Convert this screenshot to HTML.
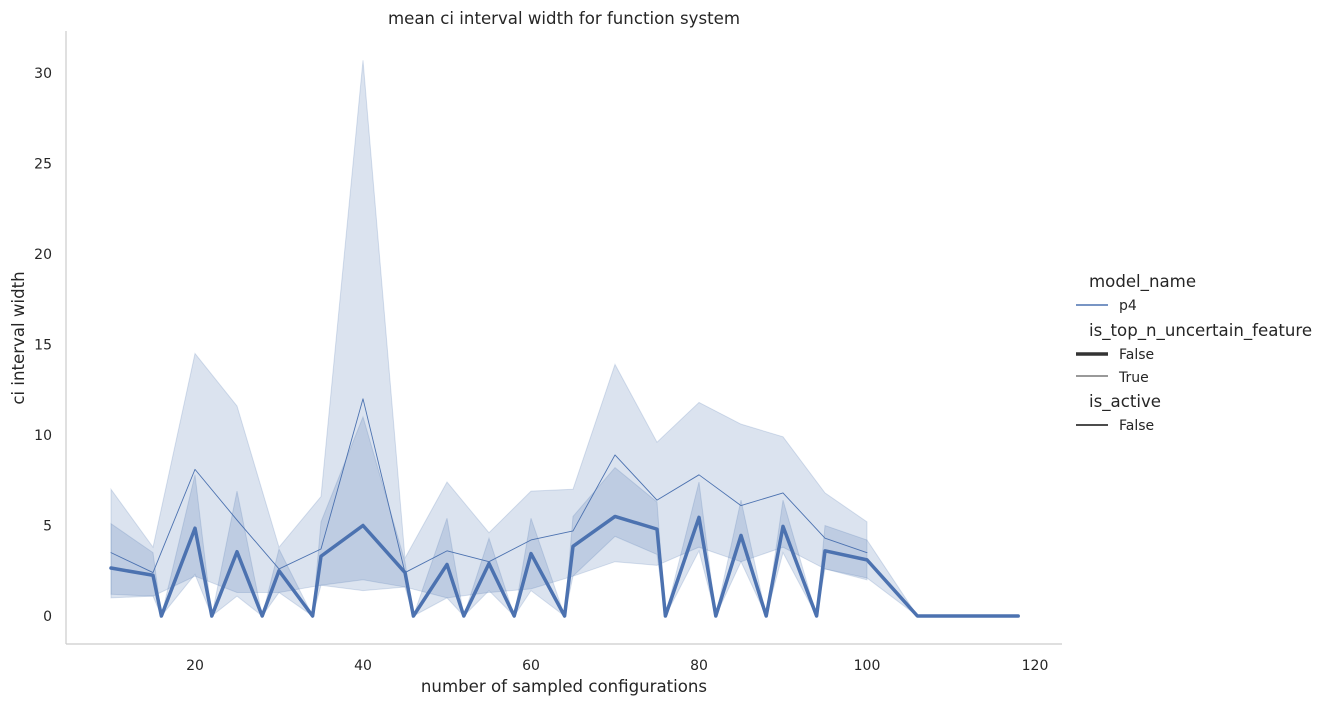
<!DOCTYPE html>
<html><head><meta charset="utf-8"><style>
body{margin:0;background:#fff;font-family:"DejaVu Sans","Liberation Sans",sans-serif;}
</style></head><body>
<svg width="1325" height="706" viewBox="0 0 1325 706" font-family="DejaVu Sans, Liberation Sans, sans-serif">
<text x="564" y="24" text-anchor="middle" font-size="16.6" fill="#262626">mean ci interval width for function system</text>
<g id="plot"></g>
<g id="axes"></g>
<text x="564" y="692" text-anchor="middle" font-size="16.6" fill="#262626">number of sampled configurations</text>
<text transform="translate(24,338) rotate(-90)" text-anchor="middle" font-size="16.6" fill="#262626">ci interval width</text>
<g font-size="14" fill="#262626">
<text x="1089" y="287" font-size="16.6">model_name</text>
<line x1="1076" y1="305" x2="1108" y2="305" stroke="#4c72b0" stroke-width="1.5"/>
<text x="1119" y="310">p4</text>
<text x="1089" y="336" font-size="16.6">is_top_n_uncertain_feature</text>
<line x1="1076" y1="354" x2="1108" y2="354" stroke="#333" stroke-width="3.5"/>
<text x="1119" y="359">False</text>
<line x1="1076" y1="376" x2="1108" y2="376" stroke="#333" stroke-width="1"/>
<text x="1119" y="382">True</text>
<text x="1089" y="407" font-size="16.6">is_active</text>
<line x1="1076" y1="425" x2="1108" y2="425" stroke="#333" stroke-width="1.8"/>
<text x="1119" y="430">False</text>
</g>
</svg>
<script>
const thickX=[10,15,16,20,22,25,28,30,34,35,40,45,46,50,52,55,58,60,64,65,70,75,76,80,82,85,88,90,94,95,100,106,112,118];
const thickY=[2.65,2.25,0,4.85,0,3.55,0,2.5,0,3.3,5.0,2.4,0,2.85,0,2.9,0,3.45,0,3.85,5.5,4.8,0,5.45,0,4.45,0,4.95,0,3.6,3.1,0,0,0];
const thickLo=[1.2,1.1,0,2.3,0,1.1,0,1.3,0,1.7,2.0,1.6,0,1.0,0,1.4,0,1.4,0,2.2,4.4,3.4,0,3.6,0,3.0,0,3.5,0,2.6,2.1,0,0,0];
const thickHi=[5.1,3.5,0,7.8,0,6.9,0,3.7,0,5.2,11.0,3.0,0,5.4,0,4.3,0,5.4,0,5.5,8.2,6.3,0,7.4,0,6.4,0,6.4,0,5.0,4.2,0,0,0];
const thinX=[10,15,20,25,30,35,40,45,50,55,60,65,70,75,80,85,90,95,100];
const thinY=[3.5,2.4,8.1,5.3,2.6,3.7,12.0,2.4,3.6,3.0,4.2,4.7,8.9,6.4,7.8,6.1,6.8,4.3,3.5];
const thinLo=[1.0,1.1,2.2,1.3,1.3,1.7,1.4,1.6,1.0,1.3,1.5,2.2,3.0,2.8,3.8,3.0,3.8,2.6,2.0];
const thinHi=[7.0,3.8,14.5,11.6,3.8,6.6,30.7,3.2,7.4,4.6,6.9,7.0,13.9,9.6,11.8,10.6,9.9,6.8,5.2];
const xTicks=[20,40,60,80,100,120];
const yTicks=[0,5,10,15,20,25,30];
const sx=v=>27+8.4*v, sy=v=>616-18.1*v;
const NS="http://www.w3.org/2000/svg";
const plot=document.getElementById('plot'), axes=document.getElementById('axes');
function mk(tag,attrs,parent){const e=document.createElementNS(NS,tag);for(const k in attrs)e.setAttribute(k,attrs[k]);parent.appendChild(e);return e;}
function band(xs,lo,hi,name){
  let d='M'+xs.map((x,i)=>sx(x)+','+sy(hi[i])).join('L');
  for(let i=xs.length-1;i>=0;i--)d+='L'+sx(xs[i])+','+sy(lo[i]);
  const p=mk('path',{d:d+'Z',fill:'#4c72b0','fill-opacity':0.2,stroke:'#4c72b0','stroke-opacity':0.2},plot);
  
  
}
function line(xs,ys,w,name){
  const p=mk('polyline',{points:xs.map((x,i)=>sx(x)+','+sy(ys[i])).join(' '),fill:'none',stroke:'#4c72b0','stroke-width':w,'stroke-linejoin':'round','stroke-linecap':'round'},plot);
  
  
}
band(thickX,thickLo,thickHi,'ci-band-false');
band(thinX,thinLo,thinHi,'ci-band-true');
line(thickX,thickY,3.5,'line-false');
line(thinX,thinY,0.9,'line-true');
const sp1=mk('line',{x1:66,y1:31,x2:66,y2:644,stroke:'#ccc','stroke-width':1.2},axes);


const sp2=mk('line',{x1:66,y1:644,x2:1062,y2:644,stroke:'#ccc','stroke-width':1.2},axes);


xTicks.forEach(t=>{const e=mk('text',{x:sx(t),y:670,'text-anchor':'middle','font-size':14,fill:'#262626'},axes);e.textContent=t;

});
yTicks.forEach(t=>{const e=mk('text',{x:52,y:sy(t)+5,'text-anchor':'end','font-size':14,fill:'#262626'},axes);e.textContent=t;

});
</script>
</body></html>
